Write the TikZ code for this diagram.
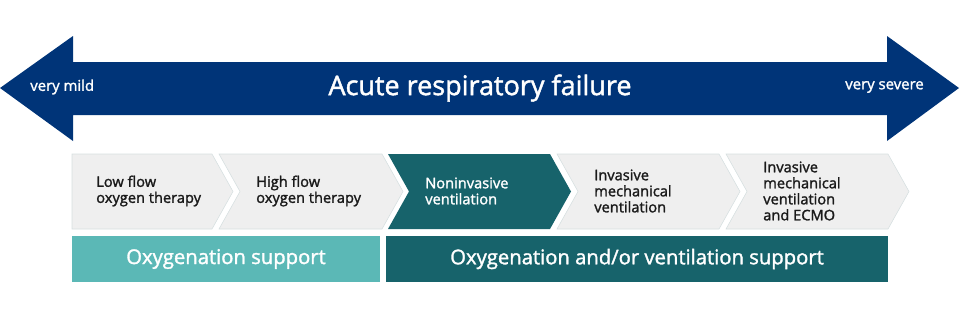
\documentclass[tikz,border=0pt]{standalone}
\usepackage{fontspec}
\setmainfont{Open Sans}[UprightFeatures={FakeBold=1.6}]
\usetikzlibrary{positioning}
\definecolor{arfnavy}{HTML}{003478}
\definecolor{darkteal}{HTML}{17636B}
\definecolor{lightteal}{HTML}{5BB8B6}
\definecolor{chevgray}{HTML}{EFEFEF}
\definecolor{chevline}{HTML}{D6DFE0}
\definecolor{steptext}{HTML}{1A1A1A}

\begin{document}
\begin{tikzpicture}[
  x=0.025cm, y=-0.025cm,
  steplabel/.style={anchor=west,align=left,inner sep=0pt,text=steptext,
    font=\fontsize{10.4}{11.4}\selectfont},
  barlabel/.style={inner sep=0pt,text=white,font=\fontsize{14.4}{16}\selectfont},
  endlabel/.style={inner sep=0pt,text=white,font=\fontsize{10.6}{12}\selectfont},
  lightchev/.style={fill=chevgray,draw=chevline,line width=0.4pt}
]
  \useasboundingbox (0,0) rectangle (960,318);

  % severity arrow
  \fill[arfnavy] (0,88) -- (73,36) -- (73,62) -- (887,62) -- (887,36) -- (959,88)
    -- (887,141) -- (887,115) -- (73,115) -- (73,141) -- cycle;
  \node[barlabel,font=\fontsize{19.2}{21}\selectfont] (title) at (480,88) {Acute respiratory failure};
  \node[endlabel,anchor=west] (mild) at (30,87) {very mild};
  \node[endlabel,anchor=east] (severe) at (924,87) {very severe};

  % therapy steps
  \draw[lightchev] (72,154) -- (212,154) -- (233,191.5) -- (212,229) -- (72,229) -- cycle;
  \draw[lightchev] (219,154) -- (382,154) -- (403,191.5) -- (382,229) -- (219,229) -- (240,191.5) -- cycle;
  \fill[darkteal] (388,154) -- (550,154) -- (571,191.5) -- (550,229) -- (388,229) -- (409,191.5) -- cycle;
  \draw[lightchev] (557,154) -- (719,154) -- (740,191.5) -- (719,229) -- (557,229) -- (578,191.5) -- cycle;
  \draw[lightchev] (726,154) -- (888,154) -- (909,191.5) -- (888,229) -- (726,229) -- (747,191.5) -- cycle;

  \node[steplabel] (lowflow) at (96,191) {Low flow\\oxygen therapy};
  \node[steplabel] (highflow) at (256,191) {High flow\\oxygen therapy};
  \node[steplabel,text=white] (niv) at (425,191) {Noninvasive\\ventilation};
  \node[steplabel] (imv) at (594,191) {Invasive\\mechanical\\ventilation};
  \node[steplabel] (ecmo) at (763,191) {Invasive\\mechanical\\ventilation\\and ECMO};

  % support bars
  \fill[lightteal] (72,236) rectangle (380,282);
  \fill[darkteal] (386,236) rectangle (888,282);
  \node[barlabel] (oxy) at (226,259) {Oxygenation support};
  \node[barlabel] (oxyvent) at (637,259) {Oxygenation and/or ventilation support};
\end{tikzpicture}
\end{document}
